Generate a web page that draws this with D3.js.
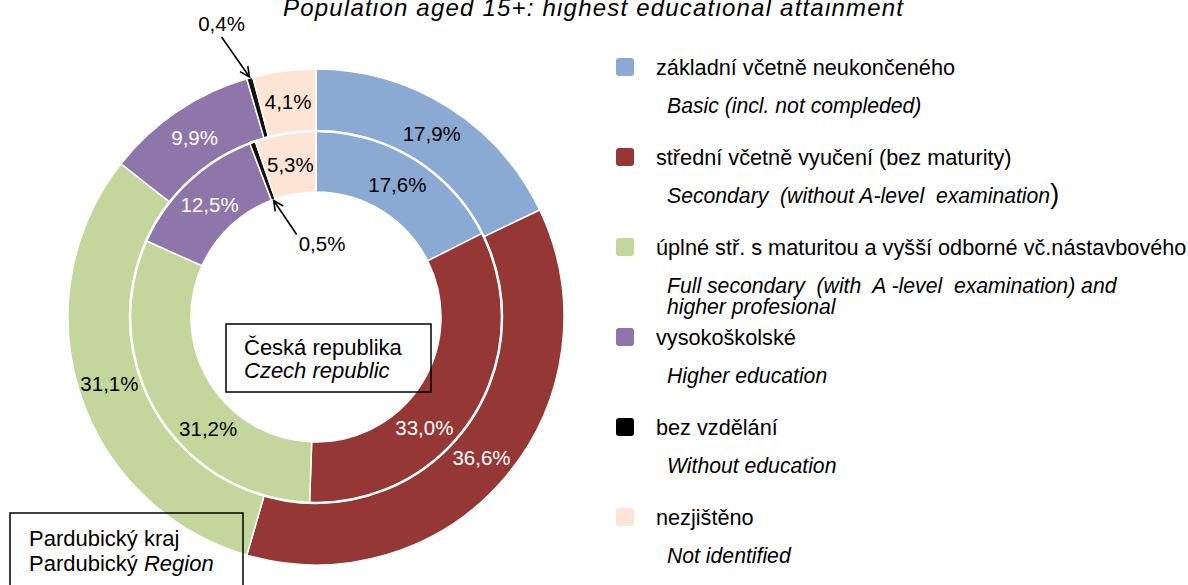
<!DOCTYPE html>
<html>
<head>
<meta charset="utf-8">
<script src="https://cdn.jsdelivr.net/npm/d3@7"></script>
<style>
  body { margin: 0; background: #fff; }
  svg text { font-family: "Liberation Sans", Arial, sans-serif; white-space: pre; }
</style>
</head>
<body>
<div id="chart"></div>
<script>
const titleText = "Population aged 15+: highest educational attainment";
const categoriesCz = [
    "základní včetně neukončeného",
    "střední včetně vyučení (bez maturity)",
    "úplné stř. s maturitou a vyšší odborné vč.nástavbového",
    "vysokoškolské",
    "bez vzdělání",
    "nezjištěno"
];
const categoriesEn = [
    ["Basic (incl. not compleded)"],
    ["Secondary  (without A-level  examination"],
    ["Full secondary  (with  A -level  examination) and", "higher profesional"],
    ["Higher education"],
    ["Without education"],
    ["Not identified"]
];
const pardubiceValues = [17.9, 36.6, 31.1, 9.9, 0.4, 4.1];
const czechValues = [17.6, 33.0, 31.2, 12.5, 0.5, 5.3];
const sliceColors = ["#8aaad3", "#953735", "#c3d69b", "#8e75aa", "#111111", "#fde4d4"];
const labelColors = ["#000", "#fff", "#000", "#fff", "#000", "#000"];

// layout
const width = 1188, height = 585;
const cx = 316, cy = 317;
const ringInner = { r0: 125, r1: 186, labelR: 155 };
const ringOuter = { r0: 186, r1: 248, labelR: 217 };
// manual label nudges (degrees) as moved in the original
const innerNudge = [0, 13, -14, 0, 0, 0];

const svg = d3.select("#chart").append("svg")
    .attr("width", width)
    .attr("height", height);

svg.append("text")
    .attr("x", 283)
    .attr("y", 16)
    .attr("textLength", 620)
    .attr("lengthAdjust", "spacing")
    .style("font-size", "24px")
    .style("font-style", "italic")
    .text(titleText);

const pie = d3.pie().sort(null).value(d => d);
const fmt = v => d3.format(".1f")(v).replace(".", ",") + "%";

const g = svg.append("g").attr("transform", `translate(${cx},${cy})`);

function drawRing(values, ring, nudges) {
    const arcs = pie(values);
    const arc = d3.arc().innerRadius(ring.r0).outerRadius(ring.r1);
    g.append("g").selectAll("path")
        .data(arcs)
        .join("path")
        .attr("d", arc)
        .attr("fill", (d, i) => sliceColors[i])
        .attr("stroke", "#fff")
        .attr("stroke-width", 1.5);

    g.append("g").selectAll("text")
        .data(arcs.filter((d, i) => i !== 4))
        .join("text")
        .attr("transform", d => {
            const a = (d.startAngle + d.endAngle) / 2 + (nudges ? nudges[d.index] : 0) * Math.PI / 180;
            return `translate(${ring.labelR * Math.sin(a)},${-ring.labelR * Math.cos(a)})`;
        })
        .attr("text-anchor", "middle")
        .attr("dy", "0.36em")
        .style("font-size", "20.5px")
        .attr("fill", d => labelColors[d.index])
        .text(d => fmt(d.data));
    return arcs;
}

const innerArcs = drawRing(czechValues, ringInner, innerNudge);
const outerArcs = drawRing(pardubiceValues, ringOuter, null);

// white separator between rings
g.append("circle").attr("r", ringOuter.r0).attr("fill", "none")
    .attr("stroke", "#fff").attr("stroke-width", 2.5);

// callouts for the tiny "bez vzdělání" slices
function callout(arcD, r, dx, dy, labelDx, labelDy, anchor) {
    const a = (arcD.startAngle + arcD.endAngle) / 2;
    const tip = [r * Math.sin(a), -r * Math.cos(a)];
    const start = [tip[0] + dx, tip[1] + dy];
    const ang = Math.atan2(tip[1] - start[1], tip[0] - start[0]);
    const hl = 11, spread = 0.45;
    const h1 = [tip[0] - hl * Math.cos(ang - spread), tip[1] - hl * Math.sin(ang - spread)];
    const h2 = [tip[0] - hl * Math.cos(ang + spread), tip[1] - hl * Math.sin(ang + spread)];
    g.append("path")
        .attr("d", `M${start}L${tip}M${h1}L${tip}L${h2}`)
        .attr("fill", "none")
        .attr("stroke", "#000")
        .attr("stroke-width", 1.6);
    g.append("text")
        .attr("x", start[0] + labelDx)
        .attr("y", start[1] + labelDy)
        .attr("text-anchor", anchor)
        .attr("dy", "0.36em")
        .style("font-size", "20.5px")
        .text(fmt(arcD.data));
}
callout(outerArcs[4], ringOuter.r1 + 1, -28, -40, 0, -13, "middle");
callout(innerArcs[4], ringInner.r0 - 1, 23, 34, 2, 9, "start");

// boxes
function labelBox(x, y, w, h, lines) {
    svg.append("rect")
        .attr("x", x).attr("y", y).attr("width", w).attr("height", h)
        .attr("fill", "none").attr("stroke", "#000").attr("stroke-width", 1.5);
    lines.forEach(ln => {
        const t = svg.append("text")
            .attr("x", ln.x)
            .attr("y", ln.y)
            .attr("dy", "0.36em")
            .style("font-size", "22px");
        ln.parts.forEach(p => t.append("tspan").style("font-style", p[1] ? "italic" : "normal").text(p[0]));
    });
}
labelBox(226, 324, 205, 68, [
    { x: 244, y: 347, parts: [["Česká republika", false]] },
    { x: 244, y: 370, parts: [["Czech republic", true]] }
]);
labelBox(10, 513, 233, 80, [
    { x: 29, y: 538, parts: [["Pardubický kraj", false]] },
    { x: 29, y: 563, parts: [["Pardubický ", false], ["Region", true]] }
]);

// legend
const legendY = d3.scaleLinear().domain([0, 5]).range([67, 517]);
const legend = svg.append("g");
categoriesCz.forEach((name, i) => {
    const y = legendY(i);
    legend.append("rect")
        .attr("x", 616).attr("y", y - 9)
        .attr("width", 18).attr("height", 18)
        .attr("rx", 3)
        .attr("fill", i === 4 ? "#000" : sliceColors[i]);
    legend.append("text")
        .attr("x", 656).attr("y", y)
        .attr("dy", "0.36em")
        .style("font-size", "21.7px")
        .text(name);
    categoriesEn[i].forEach((line, j) => {
        const t = legend.append("text")
            .attr("x", 667).attr("y", y + 38 + j * 21)
            .attr("dy", "0.36em")
            .style("font-size", "21.2px")
            .style("font-style", "italic")
            .text(line);
        if (i === 1) {
            t.append("tspan").style("font-style", "normal").style("font-size", "27px").text(")");
        }
    });
});
</script>
</body>
</html>
